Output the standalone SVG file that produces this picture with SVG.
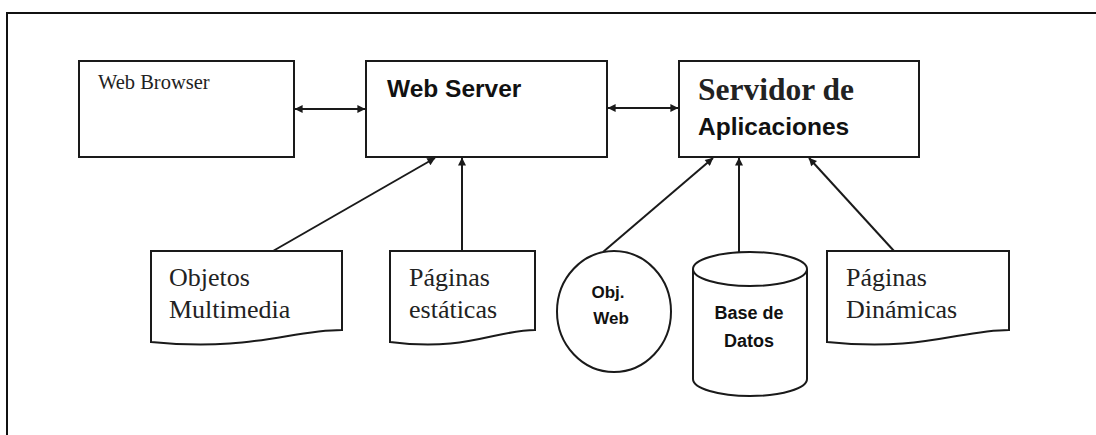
<svg xmlns="http://www.w3.org/2000/svg" width="1096" height="435" viewBox="0 0 1096 435">
  <style>
    .shape { fill: #fff; stroke: #1a1a1a; stroke-width: 2; }
    .edge { fill: none; stroke: #1a1a1a; stroke-width: 2; }
    .serif { font-family: "Liberation Serif", "Times New Roman", serif; fill: #222; }
    .sans { font-family: "Liberation Sans", Arial, sans-serif; font-weight: bold; fill: #111; }
  </style>
  <defs>
    <marker id="arrow" viewBox="0 0 10 10" refX="9.5" refY="5" markerWidth="9" markerHeight="8" markerUnits="userSpaceOnUse" orient="auto-start-reverse">
      <path d="M0,0 L10,5 L0,10 Z" fill="#1a1a1a"/>
    </marker>
  </defs>

  <rect width="1096" height="435" fill="#fff"/>
  <!-- outer frame (top and left edges) -->
  <path d="M7,435 V13 H1096" fill="none" stroke="#111" stroke-width="2"/>

  <g id="connectors">
    <line class="edge" x1="295" y1="109" x2="365" y2="109" marker-start="url(#arrow)" marker-end="url(#arrow)"/>
    <line class="edge" x1="608" y1="108" x2="678" y2="108" marker-start="url(#arrow)" marker-end="url(#arrow)"/>
    <line class="edge" x1="273" y1="251" x2="435" y2="158" marker-end="url(#arrow)"/>
    <line class="edge" x1="462" y1="251" x2="462" y2="158" marker-end="url(#arrow)"/>
    <line class="edge" x1="603" y1="252" x2="713" y2="158" marker-end="url(#arrow)"/>
    <line class="edge" x1="739" y1="252" x2="739" y2="158" marker-end="url(#arrow)"/>
    <line class="edge" x1="894" y1="251" x2="809" y2="158" marker-end="url(#arrow)"/>
  </g>

  <g id="web-browser">
    <rect class="shape" x="79" y="61" width="215" height="96"/>
    <text class="serif" x="98" y="89" font-size="20.5">Web Browser</text>
  </g>

  <g id="web-server">
    <rect class="shape" x="366" y="61" width="241" height="96"/>
    <text class="sans" x="387" y="97" font-size="24.5">Web Server</text>
  </g>

  <g id="servidor-aplicaciones">
    <rect class="shape" x="679" y="61" width="240" height="96"/>
    <text class="serif" x="698" y="100" font-size="31.5" font-weight="bold" fill="#111">Servidor de</text>
    <text class="sans" x="698" y="135" font-size="24.5">Aplicaciones</text>
  </g>

  <g id="objetos-multimedia">
    <path class="shape" d="M151,251 H342 V330 C290,330 250,352 151,342 Z"/>
    <text class="serif" x="169" y="286" font-size="26">Objetos</text>
    <text class="serif" x="169" y="318" font-size="26">Multimedia</text>
  </g>

  <g id="paginas-estaticas">
    <path class="shape" d="M390,251 H535 V330 C496,330 466,352 390,342 Z"/>
    <text class="serif" x="409" y="286" font-size="26">Páginas</text>
    <text class="serif" x="409" y="318" font-size="26">estáticas</text>
  </g>

  <g id="obj-web">
    <ellipse class="shape" cx="614" cy="311.5" rx="57" ry="60.5"/>
    <text class="sans" x="608" y="298" font-size="17" text-anchor="middle">Obj.</text>
    <text class="sans" x="611" y="324" font-size="17" text-anchor="middle">Web</text>
  </g>

  <g id="base-de-datos">
    <path class="shape" d="M693,269 A57,17 0 0 1 807,269 V379 A57,17 0 0 1 693,379 Z"/>
    <path class="edge" d="M693,269 A57,17 0 0 0 807,269"/>
    <text class="sans" x="749" y="319" font-size="18" text-anchor="middle">Base de</text>
    <text class="sans" x="749" y="347" font-size="18" text-anchor="middle">Datos</text>
  </g>

  <g id="paginas-dinamicas">
    <path class="shape" d="M827,251 H1009 V330 C960,330 922,352 827,342 Z"/>
    <text class="serif" x="846" y="286" font-size="26">Páginas</text>
    <text class="serif" x="846" y="318" font-size="26">Dinámicas</text>
  </g>
</svg>
